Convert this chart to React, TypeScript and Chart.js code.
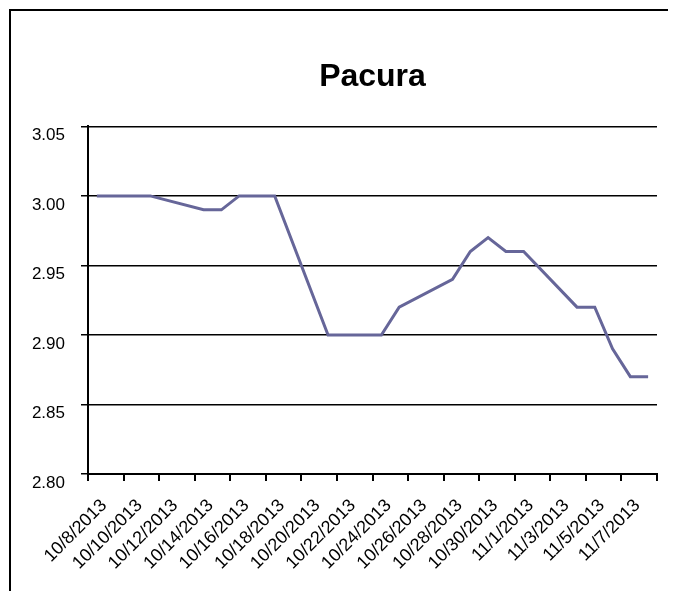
import React, { useEffect, useRef } from "react";
import { Chart, registerables } from "chart.js";

Chart.register(...registerables);

const chartTitle = "Pacura";

const dates: string[] = [
  "10/8/2013", "10/9/2013", "10/10/2013", "10/11/2013", "10/12/2013", "10/13/2013",
  "10/14/2013", "10/15/2013", "10/16/2013", "10/17/2013", "10/18/2013", "10/19/2013",
  "10/20/2013", "10/21/2013", "10/22/2013", "10/23/2013", "10/24/2013", "10/25/2013",
  "10/26/2013", "10/27/2013", "10/28/2013", "10/29/2013", "10/30/2013", "10/31/2013",
  "11/1/2013", "11/2/2013", "11/3/2013", "11/4/2013", "11/5/2013", "11/6/2013",
  "11/7/2013", "11/8/2013",
];

const prices: (number | null)[] = [
  3.0, 3.0, 3.0, 3.0, null, null,
  2.99, 2.99, 3.0, 3.0, 3.0, null,
  null, 2.9, 2.9, 2.9, 2.9, 2.92,
  null, null, 2.94, 2.96, 2.97, 2.96,
  2.96, null, null, 2.92, 2.92, 2.89,
  2.87, 2.87,
];

const yMin = 2.8;
const yMax = 3.05;
const yStep = 0.05;
const xTickStep = 2;

const FONT = "'Liberation Sans', Arial, Helvetica, sans-serif";

export default function App() {
  const canvasRef = useRef<HTMLCanvasElement | null>(null);

  useEffect(() => {
    document.documentElement.style.overflow = "hidden";
    document.body.style.overflow = "hidden";
    const canvas = canvasRef.current;
    if (!canvas) return;
    const points = prices.map((p, i) => ({ x: i + 0.5, y: p }));
    const chart = new Chart(canvas, {
      type: "line",
      data: {
        datasets: [
          {
            label: chartTitle,
            data: points as any,
            borderColor: "#666699",
            backgroundColor: "#666699",
            borderWidth: 3,
            pointRadius: 0,
            tension: 0,
            spanGaps: true,
          },
        ],
      },
      options: {
        animation: false,
        responsive: false,
        maintainAspectRatio: false,
        layout: { padding: { left: 0, right: 19, top: 0, bottom: 0 } },
        plugins: {
          legend: { display: false },
          tooltip: { enabled: false },
          title: {
            display: true,
            text: chartTitle,
            fullSize: false,
            color: "#000",
            font: { family: FONT, size: 32, weight: "bold", lineHeight: 1.2 },
            padding: { top: 47, bottom: 30 },
          },
        },
        scales: {
          x: {
            type: "linear",
            min: 0,
            max: dates.length,
            afterFit: (s: any) => {
              s.height = 117;
              s.paddingLeft = 0;
              s.paddingRight = 0;
            },
            ticks: {
              stepSize: xTickStep,
              autoSkip: false,
              minRotation: 45,
              maxRotation: 45,
              padding: 14,
              labelOffset: 16,
              color: "#000",
              font: { family: FONT, size: 18 },
              callback: (v: any) => {
                const idx = Math.round(Number(v));
                return dates[idx] ?? "";
              },
            },
            grid: {
              drawOnChartArea: false,
              drawTicks: true,
              tickLength: 7,
              color: "#000",
              lineWidth: 2,
            },
            border: { display: true, color: "#000", width: 2 },
          },
          y: {
            type: "linear",
            min: yMin,
            max: yMax,
            afterFit: (s: any) => {
              s.width = 77;
              s.paddingTop = 0;
              s.paddingBottom = 0;
            },
            ticks: {
              stepSize: yStep,
              padding: 16,
              labelOffset: 9,
              color: "#000",
              font: { family: FONT, size: 17 },
              callback: (v: any) => Number(v).toFixed(2),
            },
            grid: {
              drawTicks: true,
              tickLength: 7,
              color: "#000",
              lineWidth: 1.5,
            },
            border: { display: true, color: "#000", width: 2 },
          },
        },
      },
    });
    return () => chart.destroy();
  }, []);

  return (
    <div
      style={{
        marginLeft: 1,
        marginTop: 1,
        width: 700,
        height: 620,
        borderLeft: "2px solid #000",
        borderTop: "2px solid #000",
        background: "#fff",
      }}
    >
      <canvas ref={canvasRef} width={665} height={580} style={{ display: "block" }} />
    </div>
  );
}
